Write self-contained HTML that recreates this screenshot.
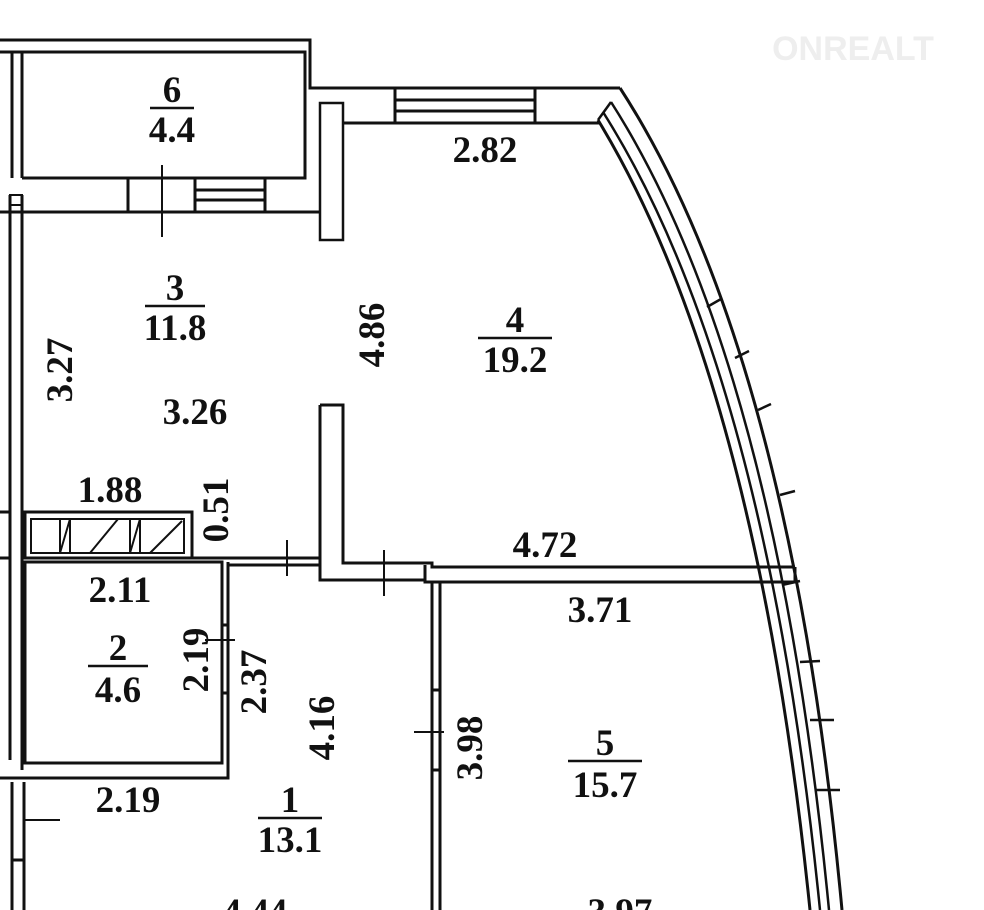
<!DOCTYPE html>
<html><head><meta charset="utf-8"><style>
html,body{margin:0;padding:0;background:#fff;}
svg{display:block;}
text{font-family:"Liberation Serif",serif;font-size:37px;font-weight:bold;fill:#111;text-anchor:middle;}
</style></head><body>
<svg width="984" height="910" viewBox="0 0 984 910" xmlns="http://www.w3.org/2000/svg">
<g fill="none" stroke="#111" stroke-width="3">
<polyline points="0,40 310,40 310,88 620,88"/>
<polyline points="0,52 305,52 305,178 22,178"/>
<line x1="12" y1="52" x2="12" y2="178"/><line x1="22" y1="52" x2="22" y2="178"/>
<line x1="0" y1="212" x2="320" y2="212"/>
<rect x="128" y="178" width="67" height="34"/>
<rect x="195" y="178" width="70" height="34"/>
<line x1="195" y1="190" x2="265" y2="190"/><line x1="195" y1="200" x2="265" y2="200"/>
<rect x="320" y="103" width="23" height="137" stroke-width="2.5"/>
<line x1="343" y1="123" x2="600" y2="123"/>
<rect x="395" y="88" width="140" height="35"/>
<line x1="395" y1="100" x2="535" y2="100"/><line x1="395" y1="111" x2="535" y2="111"/>
<line x1="10" y1="195" x2="10" y2="760"/>
<line x1="22" y1="195" x2="22" y2="770"/>
<rect x="10" y="195" width="12" height="10" stroke-width="2"/>
<line x1="0" y1="512" x2="10" y2="512"/><line x1="0" y1="558" x2="10" y2="558"/>
<rect x="25" y="512" width="167" height="46"/>
<rect x="31" y="519" width="153" height="34" stroke-width="2"/>
<path d="M60 519v34M70 519v34M60 553L70 519M90 553L118 519M130 519v34M140 519v34M130 553L140 519M150 553L182 521" stroke-width="2"/>
<rect x="25" y="562" width="197" height="201"/>
<polyline points="228,562 228,778 0,778"/>
<line x1="192" y1="558" x2="320" y2="558"/>
<line x1="228" y1="565" x2="320" y2="565"/>
<line x1="222" y1="625" x2="228" y2="625"/><line x1="222" y1="693" x2="228" y2="693"/>
<polyline points="320,405 343,405 343,563 432,563 432,567 795,567"/>
<polyline points="320,405 320,580 425,580 425,582 795,582 795,567"/>
<line x1="425" y1="565" x2="425" y2="582"/>
<line x1="432" y1="582" x2="432" y2="910"/><line x1="440" y1="582" x2="440" y2="910"/>
<line x1="432" y1="690" x2="440" y2="690"/><line x1="432" y1="770" x2="440" y2="770"/>
<line x1="12" y1="782" x2="12" y2="910"/><line x1="24" y1="782" x2="24" y2="910"/>
<line x1="12" y1="860" x2="24" y2="860"/>
<path d="M162 165v72M287 540v36M384 550v46M414 732h30M24 820h36M205 640h30" stroke-width="2"/>
<path d="M620 88 Q790 350 842 910"/>
<path d="M611 102 Q776 360 829 910" stroke-width="2.5"/>
<path d="M603 112 Q766 370 820 910" stroke-width="2.5"/>
<path d="M598 120 Q756 380 810 910"/>
<path d="M598 120 L611 102" stroke-width="2.5"/>
<path d="M707 307l14-8M735 358l14-7M758 410l13-6M780 495l15-4M782 585l18-4M800 662l20-1M810 720l24 0M816 790l24 0" stroke-width="2.5"/>
</g>
<g>
<text x="172" y="102">6</text><line x1="150" y1="108" x2="194" y2="108" stroke="#111" stroke-width="2.5"/><text x="172" y="142">4.4</text>
<text x="485" y="162">2.82</text>
<text x="175" y="300">3</text><line x1="145" y1="306" x2="205" y2="306" stroke="#111" stroke-width="2.5"/><text x="175" y="340">11.8</text>
<text transform="translate(384,335) rotate(-90)">4.86</text>
<text x="515" y="332">4</text><line x1="478" y1="338" x2="552" y2="338" stroke="#111" stroke-width="2.5"/><text x="515" y="372">19.2</text>
<text transform="translate(72,370) rotate(-90)">3.27</text>
<text x="195" y="424">3.26</text>
<text x="110" y="502">1.88</text>
<text transform="translate(228,510) rotate(-90)">0.51</text>
<text x="545" y="557">4.72</text>
<text x="120" y="602">2.11</text>
<text x="600" y="622">3.71</text>
<text x="118" y="660">2</text><line x1="88" y1="666" x2="148" y2="666" stroke="#111" stroke-width="2.5"/><text x="118" y="702">4.6</text>
<text transform="translate(208,660) rotate(-90)">2.19</text>
<text transform="translate(266,682) rotate(-90)">2.37</text>
<text transform="translate(334,728) rotate(-90)">4.16</text>
<text transform="translate(482,748) rotate(-90)">3.98</text>
<text x="605" y="755">5</text><line x1="568" y1="761" x2="642" y2="761" stroke="#111" stroke-width="2.5"/><text x="605" y="797">15.7</text>
<text x="128" y="812">2.19</text>
<text x="290" y="812">1</text><line x1="258" y1="818" x2="322" y2="818" stroke="#111" stroke-width="2.5"/><text x="290" y="852">13.1</text>
<text x="255" y="924">4.44</text>
<text x="620" y="924">3.97</text>
<text x="853" y="60" style="font-family:'Liberation Sans',sans-serif;font-size:34px;font-weight:bold;fill:#eee">ONREALT</text>
</g>
</svg>
</body></html>
